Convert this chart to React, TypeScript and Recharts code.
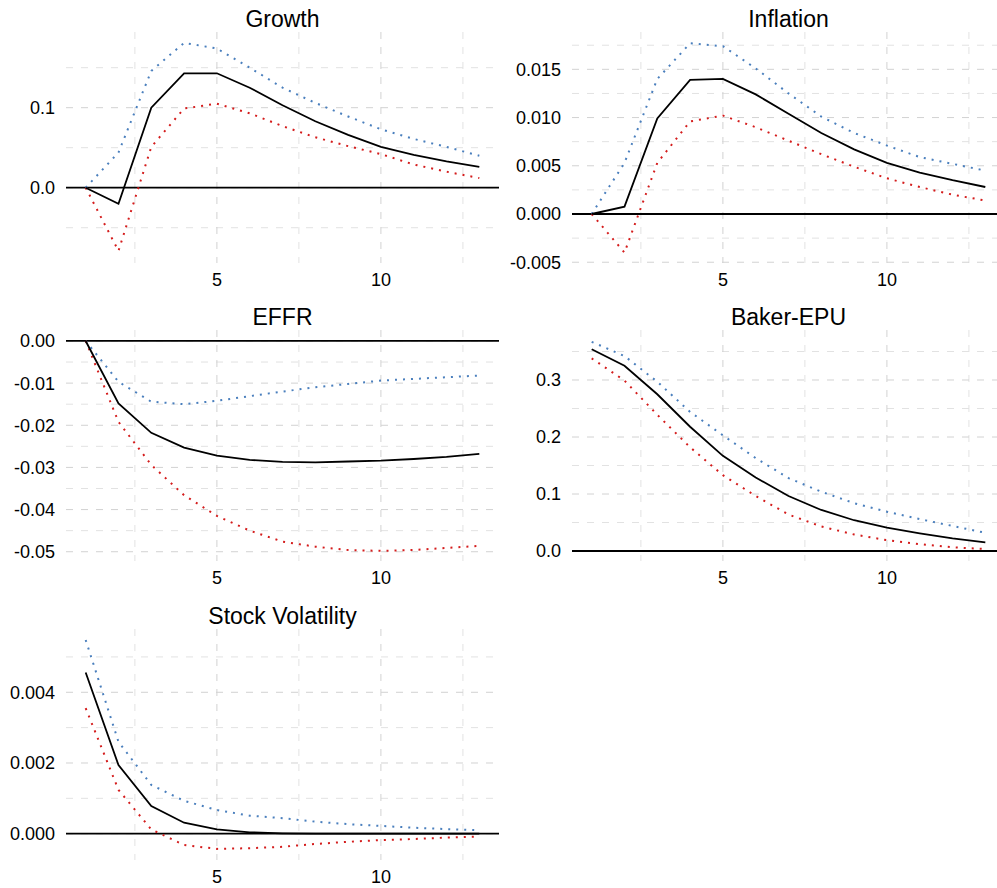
import React from "react";
import { LineChart, Line, XAxis, YAxis, CartesianGrid, ReferenceLine } from "recharts";

// impulse horizon (quarters)
const horizon = [1, 2, 3, 4, 5, 6, 7, 8, 9, 10, 11, 12, 13];

const growthMid = [0, -0.02, 0.1, 0.143, 0.143, 0.125, 0.103, 0.083, 0.066, 0.051, 0.041, 0.033, 0.026];
const growthUpper = [0, 0.044, 0.146, 0.181, 0.174, 0.15, 0.125, 0.106, 0.089, 0.073, 0.061, 0.051, 0.04];
const growthLower = [0, -0.079, 0.051, 0.099, 0.105, 0.093, 0.077, 0.063, 0.052, 0.042, 0.029, 0.02, 0.012];

const inflationMid = [0, 0.00076, 0.0099, 0.0139, 0.014, 0.0124, 0.0104, 0.0084, 0.0067, 0.0053, 0.0043, 0.0035, 0.0028];
const inflationUpper = [0, 0.0053, 0.014, 0.0177, 0.0174, 0.0151, 0.0125, 0.0101, 0.0084, 0.0071, 0.0059, 0.0052, 0.0045];
const inflationLower = [0, -0.004, 0.0053, 0.0096, 0.0102, 0.009, 0.0076, 0.0062, 0.0049, 0.0037, 0.0028, 0.002, 0.0014];

const effrMid = [0, -0.0148, -0.0218, -0.0253, -0.0272, -0.0282, -0.0287, -0.0288, -0.0286, -0.0284, -0.028, -0.0275, -0.0268];
const effrUpper = [0, -0.0097, -0.0144, -0.015, -0.0142, -0.0131, -0.012, -0.011, -0.0102, -0.0094, -0.009, -0.0086, -0.0082];
const effrLower = [0, -0.0192, -0.0294, -0.0366, -0.0415, -0.045, -0.0476, -0.0488, -0.0496, -0.0498, -0.0496, -0.0491, -0.0486];

const epuMid = [0.354, 0.325, 0.275, 0.218, 0.167, 0.129, 0.0965, 0.072, 0.054, 0.041, 0.031, 0.022, 0.015];
const epuUpper = [0.367, 0.342, 0.297, 0.244, 0.203, 0.163, 0.128, 0.104, 0.084, 0.069, 0.056, 0.044, 0.032];
const epuLower = [0.338, 0.299, 0.239, 0.182, 0.133, 0.0965, 0.064, 0.043, 0.029, 0.019, 0.012, 0.0065, 0.0035];

const volMid = [0.00456, 0.00194, 0.00078, 0.00031, 0.00012, 0.00004, 0.00001, 0, 0, 0, 0, 0, 0];
const volUpper = [0.00548, 0.0026, 0.00138, 0.00093, 0.00067, 0.00051, 0.00044, 0.00034, 0.00027, 0.00022, 0.00017, 0.00013, 0.0001];
const volLower = [0.00355, 0.00124, 0.00012, -0.00032, -0.00043, -0.00041, -0.00037, -0.00029, -0.00023, -0.00018, -0.00015, -0.00011, -0.00008];

const xMajor = [5, 10];
const xMinor = [2.5, 7.5, 12.5];

const PLOT_W = 433;
const PLOT_H = 231;
const Y_W = 80;
const X_H = 34;
const TOP = 40;

const BLUE = "#4a7fbd";
const RED = "#d41c1c";

type PanelProps = {
  title: string;
  mid: number[];
  upper: number[];
  lower: number[];
  domain: [number, number];
  majors: number[];
  minors: number[];
  digits: number;
  left: number;
  top: number;
};

const Panel = ({ title, mid, upper, lower, domain, majors, minors, digits, left, top }: PanelProps) => {
  const data = horizon.map((h, i) => ({ h, mid: mid[i], upper: upper[i], lower: lower[i] }));
  return (
    <div style={{ position: "absolute", left: left - Y_W, top: top - TOP }}>
      <div
        style={{
          position: "absolute",
          left: Y_W,
          width: PLOT_W,
          top: TOP - 5 - 19.5,
          textAlign: "center",
          fontSize: 23,
          lineHeight: "23px",
          color: "#000",
        }}
      >
        {title}
      </div>
      <LineChart
        width={Y_W + PLOT_W}
        height={TOP + PLOT_H + X_H}
        data={data}
        margin={{ top: TOP, right: 0, bottom: 0, left: 0 }}
      >
        <CartesianGrid horizontalValues={minors} verticalValues={xMinor} stroke="#e2e2e2" strokeDasharray="7 8" />
        <CartesianGrid horizontalValues={majors} verticalValues={xMajor} stroke="#d2d2d2" strokeDasharray="7 8" />
        <XAxis
          type="number"
          dataKey="h"
          domain={[0.4, 13.6]}
          ticks={xMajor}
          interval={0}
          allowDataOverflow
          axisLine={false}
          tickLine={false}
          tickSize={0}
          tickMargin={10}
          height={X_H}
          tick={{ fill: "#000", fontSize: 18 }}
        />
        <YAxis
          type="number"
          domain={domain}
          ticks={majors}
          interval={0}
          allowDataOverflow
          axisLine={false}
          tickLine={false}
          tickSize={0}
          tickMargin={11}
          width={Y_W}
          tickFormatter={(v: number) => v.toFixed(digits)}
          tick={{ fill: "#000", fontSize: 18 }}
        />
        <ReferenceLine y={0} stroke="#000" strokeWidth={1.8} />
        <Line type="linear" dataKey="upper" stroke={BLUE} strokeWidth={2} strokeDasharray="2 6" dot={false} isAnimationActive={false} />
        <Line type="linear" dataKey="lower" stroke={RED} strokeWidth={2} strokeDasharray="2 6" dot={false} isAnimationActive={false} />
        <Line type="linear" dataKey="mid" stroke="#000" strokeWidth={1.8} dot={false} isAnimationActive={false} />
      </LineChart>
    </div>
  );
};

export default function App() {
  return (
    <div
      style={{
        position: "absolute",
        left: 0,
        top: 0,
        width: 997,
        height: 888,
        overflow: "hidden",
        background: "#fff",
        fontFamily: '"Liberation Sans", Arial, Helvetica, sans-serif',
      }}
    >
      <Panel
        title="Growth"
        mid={growthMid}
        upper={growthUpper}
        lower={growthLower}
        domain={[-0.0941, 0.1946]}
        majors={[0, 0.1]}
        minors={[-0.05, 0.05, 0.15]}
        digits={1}
        left={66}
        top={32}
      />
      <Panel
        title="Inflation"
        mid={inflationMid}
        upper={inflationUpper}
        lower={inflationLower}
        domain={[-0.00508, 0.01887]}
        majors={[-0.005, 0, 0.005, 0.01, 0.015]}
        minors={[-0.0025, 0.0025, 0.0075, 0.0125, 0.0175]}
        digits={3}
        left={572}
        top={32}
      />
      <Panel
        title="EFFR"
        mid={effrMid}
        upper={effrUpper}
        lower={effrLower}
        domain={[-0.0522, 0.0026]}
        majors={[-0.05, -0.04, -0.03, -0.02, -0.01, 0]}
        minors={[-0.045, -0.035, -0.025, -0.015, -0.005]}
        digits={2}
        left={66}
        top={330}
      />
      <Panel
        title="Baker-EPU"
        mid={epuMid}
        upper={epuUpper}
        lower={epuLower}
        domain={[-0.0175, 0.3877]}
        majors={[0, 0.1, 0.2, 0.3]}
        minors={[0.05, 0.15, 0.25, 0.35]}
        digits={1}
        left={572}
        top={330}
      />
      <Panel
        title="Stock Volatility"
        mid={volMid}
        upper={volUpper}
        lower={volLower}
        domain={[-0.000744, 0.00579]}
        majors={[0, 0.002, 0.004]}
        minors={[0.001, 0.003, 0.005]}
        digits={3}
        left={66}
        top={629}
      />
    </div>
  );
}
